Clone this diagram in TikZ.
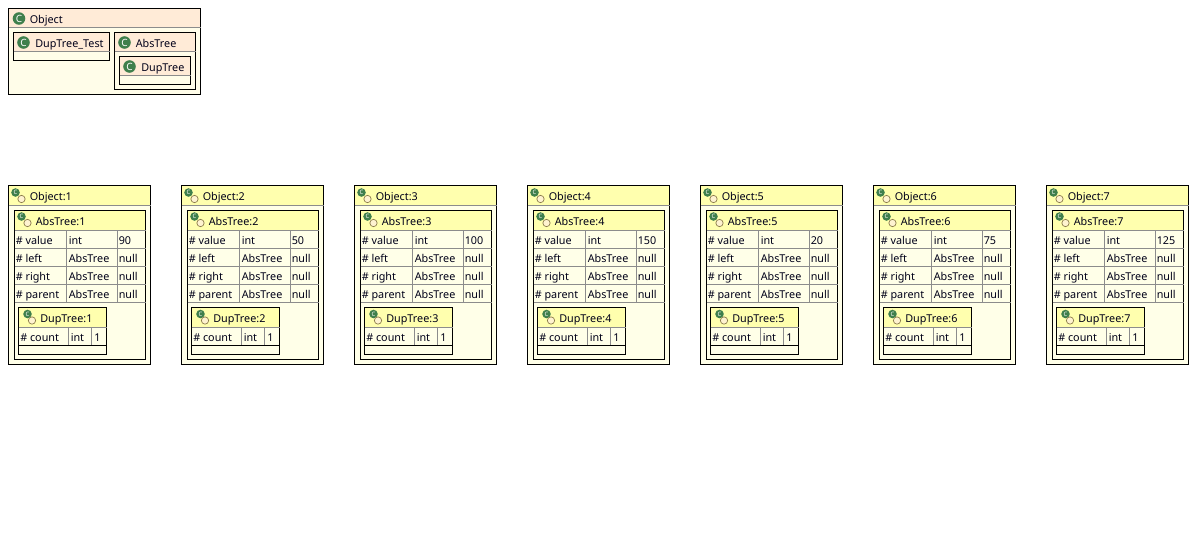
\documentclass[tikz,border=0pt]{standalone}
\usepackage{fontspec}
\setmainfont{Noto Sans}
\definecolor{classhead}{HTML}{FFEBD7}
\definecolor{classbody}{HTML}{FFFDE9}
\definecolor{insthead}{HTML}{FFFFAE}
\definecolor{instbody}{HTML}{FFFFE8}
\definecolor{icongreen}{HTML}{3F7F4C}
\definecolor{iconring}{HTML}{FFF3D0}
\definecolor{iconedge}{HTML}{8A7A4A}
\tikzset{
    box/.style={draw=black, line width=0.75pt},
    rule/.style={draw=gray!90, line width=0.75pt},
    txt/.style={anchor=base west, inner sep=0pt, font=\fontsize{8.1}{10}\selectfont, text=black!90!blue},
    classicon/.style={circle, fill=icongreen, inner sep=0pt, minimum size=9.4pt,
        text=white, font=\fontsize{7.5}{8}\bfseries\selectfont},
    objdot/.style={circle, fill=icongreen, inner sep=0pt, minimum size=6.4pt,
        text=white, font=\fontsize{4.5}{5}\bfseries\selectfont},
    objring/.style={circle, draw=iconedge, fill=iconring, line width=0.5pt, inner sep=0pt, minimum size=5.5pt},
}
% one class box: x1, y1, x2, y2, y of header rule
\newcommand{\classbox}[5]{
    \path[box, fill=classbody] (#1,#2) rectangle (#3,#4);
    \path[box, fill=classhead] (#1,#2) rectangle (#3,#5);
    \draw[rule] (#1,#5) -- (#3,#5);
}
\newcommand{\instbox}[5]{
    \path[box, fill=instbody] (#1,#2) rectangle (#3,#4);
    \path[box, fill=insthead] (#1,#2) rectangle (#3,#5);
    \draw[rule] (#1,#5) -- (#3,#5);
}
\begin{document}
\begin{tikzpicture}[x=0.75pt, y=-0.75pt]
    \useasboundingbox[fill=white] (0,0) rectangle (1197,544);
    % class tree
    \classbox{8.5}{8.5}{200.5}{94.5}{27.5}
    \node[classicon] (objecticon) at (19,18.5) {C};
    \node[txt] (object) at (29.5,23) {Object};
    \classbox{13.5}{32.5}{109.5}{60.5}{51.5}
    \node[classicon] (testicon) at (23.5,42.5) {C};
    \node[txt] (test) at (35,47) {DupTree\_Test};
    \classbox{114.5}{32.5}{195.5}{89.5}{51.5}
    \node[classicon] (absicon) at (124.5,42.5) {C};
    \node[txt] (abs) at (135.5,47) {AbsTree};
    \classbox{119.5}{56.5}{190.5}{84.5}{75.5}
    \node[classicon] (dupicon) at (129.5,66.5) {C};
    \node[txt] (dup) at (141,71) {DupTree};
    % one column per object
    \foreach \n/\val in {1/90,2/50,3/100,4/150,5/20,6/75,7/125} {
    \begin{scope}[xshift={(\n-1)*129.75pt}]
        \instbox{8.5}{185.5}{150.5}{364.5}{205.5}
        \node[objdot] (objdot\n) at (15.5,192.5) {C};
        \node[objring] (objring\n) at (21.5,199) {};
        \node[txt] (obj\n) at (29.5,200) {Object:\n};
        \instbox{14.5}{210.5}{145.5}{359.5}{230.5}
        \node[objdot] (absdot\n) at (21.5,216.5) {C};
        \node[objring] (absring\n) at (27.5,223) {};
        \node[txt] (abs\n) at (35.5,225) {AbsTree:\n};
        \foreach \y in {248.5,266.5,284.5,302.5}
            \draw[rule] (14.5,\y) -- (145.5,\y);
        \draw[rule] (66.5,230.5) -- (66.5,302.5);
        \draw[rule] (117.5,230.5) -- (117.5,302.5);
        \foreach \nm/\ty/\dv/\yy in {value/int/\val/244, left/AbsTree/null/262,
                right/AbsTree/null/280, parent/AbsTree/null/298} {
            \node[txt] (\nm name\n) at (15.5,\yy) {\# \nm};
            \node[txt] (\nm type\n) at (68.5,\yy) {\ty};
            \node[txt] (\nm data\n) at (118.5,\yy) {\dv};
        }
        \instbox{18.5}{307.5}{106.5}{354.5}{327.5}
        \node[objdot] (dupdot\n) at (27.5,314) {C};
        \node[objring] (dupring\n) at (32,320.5) {};
        \node[txt] (dup\n) at (40,322) {DupTree:\n};
        \draw[rule] (68.5,327.5) -- (68.5,345.5);
        \draw[rule] (91.5,327.5) -- (91.5,345.5);
        \draw[box] (18.5,345.5) -- (106.5,345.5);
        \node[txt] (countname\n) at (20,341) {\# count};
        \node[txt] (counttype\n) at (70.5,341) {int};
        \node[txt] (countdata\n) at (94,341) {1};
    \end{scope}
    }
\end{tikzpicture}
\end{document}
